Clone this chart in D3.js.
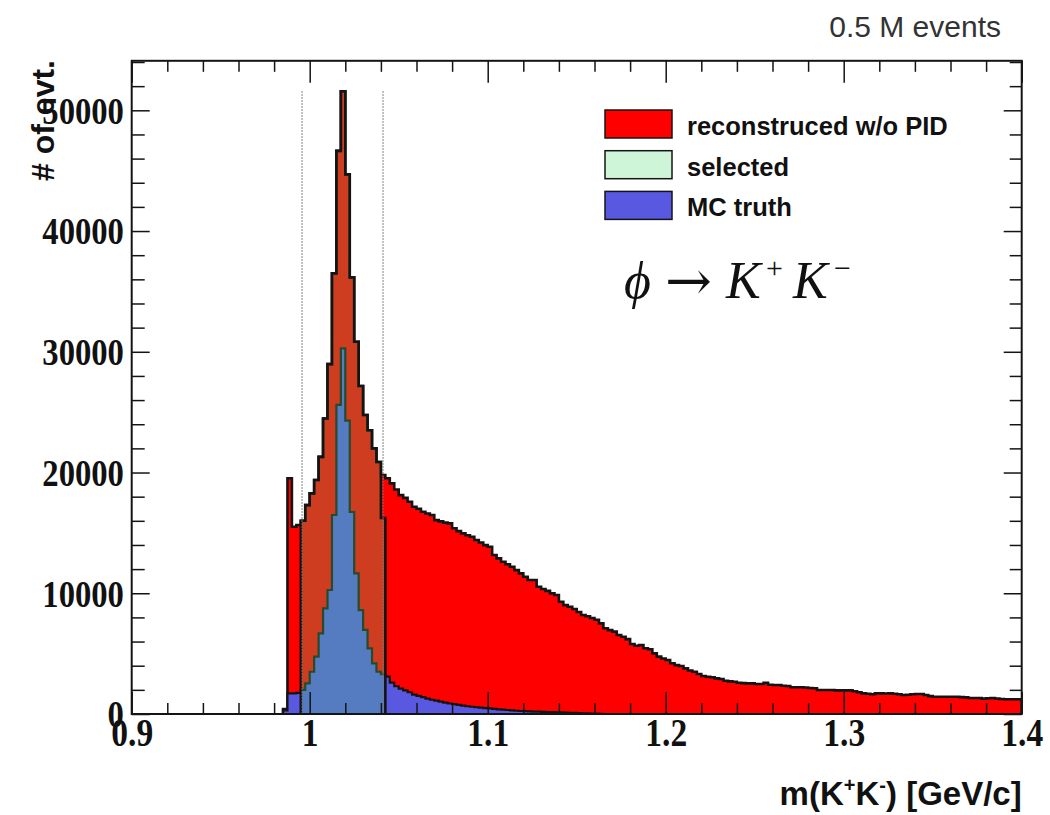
<!DOCTYPE html>
<html>
<head>
<meta charset="utf-8">
<script src="https://cdn.jsdelivr.net/npm/d3@7"></script>
<style>
  body { margin: 0; background: #fff; }
  svg { display: block; }
  .lbl { font-family: "Liberation Serif", "Times New Roman", serif; font-weight: bold; fill: #111; }
  .sans { font-family: "Liberation Sans", Arial, sans-serif; font-weight: bold; fill: #111; }
</style>
</head>
<body>
<svg id="chart" width="1050" height="815"></svg>
<script>
// histogram binning, GeV
const binLow = 0.9, binWidth = 0.0025;

// reconstructed w/o PID, starts at bin 34
const recoFirst = 34;
const recoCounts = [
  400, 19520, 15510, 15650, 16000, 17300, 18270, 19380, 21300, 24480,
  28980, 36490, 46640, 51580, 44690, 36160, 30830, 27160, 24760, 23500,
  22000, 20870, 19800, 19520, 19100, 18600, 18130, 17900, 17580, 17160,
  17000, 16750, 16600, 16480, 16060, 15950, 15850, 15790, 15380, 15150,
  14960, 14800, 14680, 14410, 14200, 13990, 13850, 13170, 12890, 12610,
  12400, 12200, 11920, 11650, 11370, 11100, 11100, 10540, 10350, 10200,
  9990, 9850, 9300, 9020, 8880, 8700, 8450, 8200, 8100, 7950,
  7800, 7510, 7100, 6950, 6820, 6540, 6400, 6200, 5800, 5650,
  5710, 5440, 5360, 5020, 4750, 4600, 4470, 4200, 4050, 3970,
  3780, 3600, 3500, 3310, 3150, 3090, 3040, 2950, 2900, 2760,
  2700, 2670, 2590, 2560, 2540, 2540, 2480, 2480, 2590, 2420,
  2400, 2400, 2340, 2320, 2210, 2220, 2210, 2200, 2150, 2130,
  1990, 1990, 1990, 1990, 1960, 1960, 1960, 1960, 1880, 1800,
  1710, 1680, 1630, 1710, 1710, 1700, 1710, 1680, 1630, 1570,
  1600, 1630, 1660, 1660, 1570, 1480, 1430, 1430, 1430, 1430,
  1430, 1430, 1400, 1380, 1320, 1320, 1320, 1270, 1300, 1320,
  1270, 1240, 1220, 1220, 1220, 1220
];

// MC truth, starts at bin 34
const mcFirst = 34;
const mcCounts = [
  300, 1710, 1710, 1750, 1990, 2540, 3500, 4750, 6680, 8750,
  10270, 16480, 25600, 30280, 24300, 16730, 11650, 8610, 6960, 5440,
  4200, 3500, 3300, 3100, 2600, 2300, 2100, 1950, 1800, 1600,
  1500, 1400, 1280, 1180, 1100, 1020, 940, 870, 810, 750,
  690, 640, 600, 560, 520, 490, 460, 420, 390, 360,
  330, 300, 270, 250, 230, 215, 200, 190, 180, 165,
  150, 140, 130, 115, 100, 90, 75, 60, 50, 40,
  30, 20
];

// selected (inside mass window), starts at bin 38
const selFirst = 38;
const selCounts = [
  16000, 17300, 18270, 19380, 21300, 24480, 28980, 36490, 46640, 51580,
  44690, 36160, 30830, 27160, 24760, 23500, 22000, 20870, 16230
];

const cutWindow = [0.9957, 1.0412];
const xTicks = [0.9, 1.0, 1.1, 1.2, 1.3, 1.4];
const xTickLabels = ["0.9", "1", "1.1", "1.2", "1.3", "1.4"];
const yTicks = [0, 10000, 20000, 30000, 40000, 50000];
const yTickLabels = ["0", "10000", "20000", "30000", "40000", "50000"];
const legendLabels = ["reconstruced w/o PID", "selected", "MC truth"];

const colors = {
  reco: "#ff0000",
  sel: "#50dc6e",
  mc: "#5858e0",
  line: "#141414"
};

const frame = { left: 131.7, right: 1021.7, top: 60.8, bottom: 714 };

const svg = d3.select("#chart");
svg.append("rect").attr("width", 1050).attr("height", 815).attr("fill", "#fff");

const x = d3.scaleLinear().domain([0.9, 1.4]).range([frame.left, frame.right]);
const y = d3.scaleLinear().domain([0, 54100]).range([frame.bottom, frame.top]);

svg.append("defs").append("clipPath").attr("id", "plot")
  .append("rect").attr("x", frame.left).attr("y", frame.top)
  .attr("width", frame.right - frame.left).attr("height", frame.bottom - frame.top);

// step points of a histogram
function steps(first, counts) {
  const pts = [];
  counts.forEach((c, k) => {
    const lo = binLow + (first + k) * binWidth;
    pts.push([lo, c], [lo + binWidth, c]);
  });
  return pts;
}

const area = d3.area().x(d => x(d[0])).y0(y(0)).y1(d => y(d[1]));
const outline = d3.line().x(d => x(d[0])).y(d => y(d[1]));

const plot = svg.append("g").attr("clip-path", "url(#plot)");

function drawHist(first, counts, fill, opacity, width) {
  const pts = steps(first, counts);
  plot.append("path").datum(pts)
    .attr("d", area)
    .attr("fill", fill)
    .attr("fill-opacity", opacity);
  const edge = [[pts[0][0], 0]].concat(pts, [[pts[pts.length - 1][0], 0]]);
  plot.append("path").datum(edge)
    .attr("d", outline)
    .attr("fill", "none")
    .attr("stroke", colors.line)
    .attr("stroke-width", width)
    .attr("stroke-linejoin", "miter");
}

drawHist(recoFirst, recoCounts, colors.reco, 1, 2.6);
drawHist(mcFirst, mcCounts, colors.mc, 1, 2.2);
drawHist(selFirst, selCounts, colors.sel, 0.28, 2.6);

// mass window lines
const peak = d3.max(recoCounts);
svg.selectAll(".cut").data(cutWindow).enter().append("line")
  .attr("x1", d => x(d)).attr("x2", d => x(d))
  .attr("y1", y(peak)).attr("y2", y(0))
  .attr("stroke", "#777").attr("stroke-width", 1.2)
  .attr("stroke-dasharray", "1.5,1.5");

// axes, ROOT style: ticks pointing inwards
const xMinor = d3.range(0, 26).filter(i => i % 5 !== 0).map(i => 0.9 + i * 0.02);
const yMinor = d3.range(1, 28).filter(i => i % 5 !== 0).map(i => i * 2000);

function tickAxis(axis, tr, values, size, labels) {
  const g = svg.append("g").attr("transform", tr)
    .call(axis.tickValues(values).tickSize(-size).tickPadding(labels ? 8 : 0)
      .tickFormat(labels ? (d, i) => labels[i] : () => ""));
  g.select(".domain").remove();
  g.selectAll(".tick line").attr("stroke", colors.line).attr("stroke-width", 1.5);
  return g;
}

const gx = tickAxis(d3.axisBottom(x), `translate(0,${frame.bottom})`, xTicks, 22, xTickLabels);
tickAxis(d3.axisBottom(x), `translate(0,${frame.bottom})`, xMinor, 11);
tickAxis(d3.axisTop(x), `translate(0,${frame.top})`, xTicks, 22);
tickAxis(d3.axisTop(x), `translate(0,${frame.top})`, xMinor, 11);
const gy = tickAxis(d3.axisLeft(y), `translate(${frame.left},0)`, yTicks, 18, yTickLabels);
tickAxis(d3.axisLeft(y), `translate(${frame.left},0)`, yMinor, 13);
tickAxis(d3.axisRight(y), `translate(${frame.right},0)`, yTicks, 18);
tickAxis(d3.axisRight(y), `translate(${frame.right},0)`, yMinor, 12);

// condensed bold serif labels
gx.selectAll(".tick text").attr("class", "lbl")
  .attr("font-size", 39).attr("dy", "0.68em").attr("y", 5)
  .attr("transform", "scale(0.86,1)");
gy.selectAll(".tick text").attr("class", "lbl")
  .attr("font-size", 38).attr("dy", "0.34em").attr("x", -9)
  .attr("transform", "scale(0.86,1)");

svg.append("rect")
  .attr("x", frame.left).attr("y", frame.top)
  .attr("width", frame.right - frame.left).attr("height", frame.bottom - frame.top)
  .attr("fill", "none").attr("stroke", colors.line).attr("stroke-width", 2);

// axis titles
svg.append("text").attr("class", "sans")
  .attr("transform", "translate(54,60) rotate(-90)")
  .attr("text-anchor", "end").attr("font-size", 32)
  .text("# of evt.");

const xt = svg.append("text").attr("class", "sans")
  .attr("x", frame.right).attr("y", 805).attr("text-anchor", "end").attr("font-size", 33);
xt.append("tspan").text("m(K");
xt.append("tspan").attr("font-size", 20).attr("dy", -13).text("+");
xt.append("tspan").attr("dy", 13).text("K");
xt.append("tspan").attr("font-size", 20).attr("dy", -13).text("-");
xt.append("tspan").attr("dy", 13).text(") [GeV/c]");

// top note
svg.append("text").attr("x", 1001).attr("y", 37).attr("text-anchor", "end")
  .attr("font-family", "'Liberation Sans', Arial, sans-serif")
  .attr("font-size", 30).attr("fill", "#333").text("0.5 M events");

// legend
const legendFills = [
  { fill: colors.reco, op: 1 },
  { fill: colors.sel, op: 0.28 },
  { fill: colors.mc, op: 1 }
];
const lg = svg.append("g").attr("transform", "translate(605,110)");
legendLabels.forEach((t, i) => {
  lg.append("rect").attr("x", 0).attr("y", i * 40.7).attr("width", 67).attr("height", 28)
    .attr("fill", legendFills[i].fill).attr("fill-opacity", legendFills[i].op)
    .attr("stroke", colors.line).attr("stroke-width", 1.5);
  lg.append("text").attr("class", "sans").attr("x", 82).attr("y", i * 40.7 + 25)
    .attr("font-size", 25.5).text(t);
});

// decay formula
const serif = "'Liberation Serif', 'Times New Roman', serif";
const fm = svg.append("g").attr("font-family", serif).attr("fill", "#111");
fm.append("text").attr("x", 624).attr("y", 298).attr("font-size", 52)
  .attr("font-style", "italic").text("\u03D5");
fm.append("text").attr("x", 665).attr("y", 300).attr("font-size", 56)
  .attr("font-family", "'DejaVu Serif', serif").text("\u2192");
fm.append("text").attr("x", 726).attr("y", 298).attr("font-size", 52)
  .attr("font-style", "italic").text("K");
fm.append("text").attr("x", 766).attr("y", 278).attr("font-size", 30).text("+");
fm.append("text").attr("x", 793).attr("y", 298).attr("font-size", 52)
  .attr("font-style", "italic").text("K");
fm.append("text").attr("x", 834).attr("y", 278).attr("font-size", 30).text("\u2212");
</script>
</body>
</html>
